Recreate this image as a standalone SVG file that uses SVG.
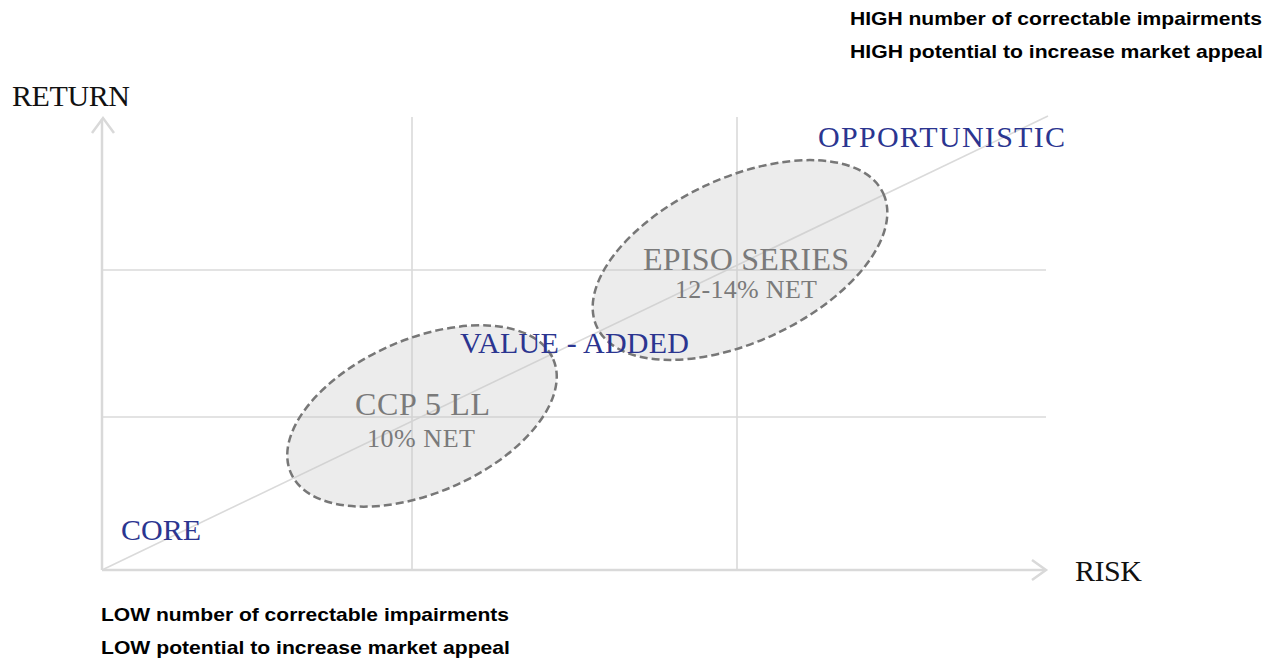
<svg xmlns="http://www.w3.org/2000/svg" width="1266" height="662" viewBox="0 0 1266 662">
<style>
.axis{stroke:#d9d9d9;stroke-width:2.5;fill:none}
.grid{stroke:#dadada;stroke-width:1.6;fill:none}
.blob{fill:#c4c4c4;fill-opacity:0.33;stroke:#777;stroke-width:2.5;stroke-dasharray:8 4}
.ax{font-family:"Liberation Serif",serif;font-size:30px;fill:#111}
.cat{font-family:"Liberation Serif",serif;font-size:30px;fill:#2b3590}
.name{font-family:"Liberation Serif",serif;font-size:32px;fill:#7a7a7a}
.ret{font-family:"Liberation Serif",serif;font-size:26px;fill:#7a7a7a}
.note{font-family:"Liberation Sans",sans-serif;font-weight:bold;font-size:18.5px;fill:#000}
</style>
<g id="connectors">
<line class="grid" x1="412" y1="117" x2="412" y2="570"/>
<line class="grid" x1="737" y1="117" x2="737" y2="570"/>
<line class="grid" x1="102" y1="270" x2="1046" y2="270"/>
<line class="grid" x1="102" y1="417" x2="1046" y2="417"/>
<line class="grid" x1="102" y1="570" x2="1048" y2="116"/>
<line class="axis" x1="102" y1="570" x2="102" y2="119"/>
<polyline class="axis" points="92,133 103,118 114,133"/>
<line class="axis" x1="102" y1="570" x2="1045" y2="570"/>
<polyline class="axis" points="1032,560 1046,570 1032,580"/>
</g>
<g id="ccp">
<ellipse class="blob" cx="422" cy="416" rx="143" ry="77" transform="rotate(-23.4 422 416)"/>
<text class="name" x="355" y="415" textLength="135">CCP 5 LL</text>
<text class="ret" x="367" y="447" textLength="108">10% NET</text>
</g>
<g id="episo">
<ellipse class="blob" cx="740" cy="260" rx="158" ry="82" transform="rotate(-25 740 260)"/>
<text class="name" x="643" y="270" textLength="206">EPISO SERIES</text>
<text class="ret" x="675" y="298" textLength="142">12-14% NET</text>
</g>
<g id="labels">
<text class="ax" x="12" y="106" textLength="118">RETURN</text>
<text class="ax" x="1075" y="581" textLength="67">RISK</text>
<text class="cat" x="818" y="147" textLength="247">OPPORTUNISTIC</text>
<text class="cat" x="460" y="353" textLength="229">VALUE - ADDED</text>
<text class="cat" x="121" y="540" textLength="80">CORE</text>
</g>
<g id="notes">
<text class="note" x="850" y="25" textLength="412" lengthAdjust="spacingAndGlyphs">HIGH number of correctable impairments</text>
<text class="note" x="850" y="58" textLength="413" lengthAdjust="spacingAndGlyphs">HIGH potential to increase market appeal</text>
<text class="note" x="101" y="621" textLength="408" lengthAdjust="spacingAndGlyphs">LOW number of correctable impairments</text>
<text class="note" x="101" y="654" textLength="409" lengthAdjust="spacingAndGlyphs">LOW potential to increase market appeal</text>
</g>
</svg>
